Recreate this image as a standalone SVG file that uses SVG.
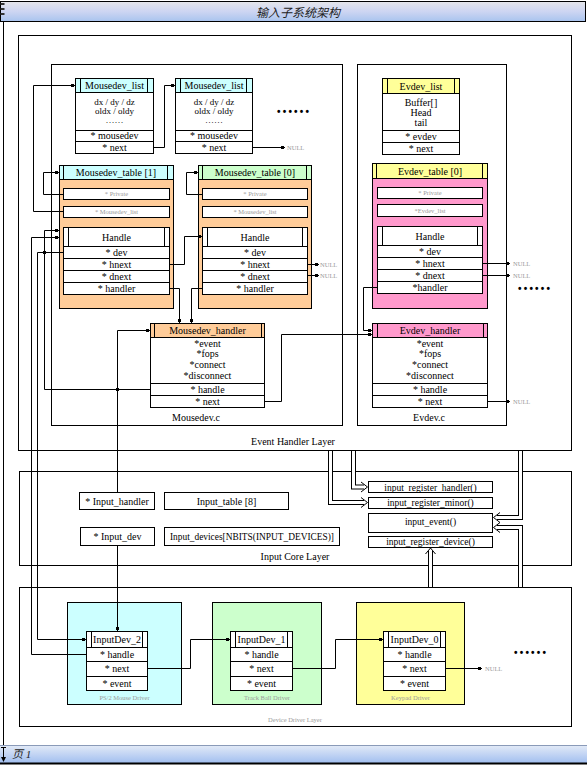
<svg xmlns="http://www.w3.org/2000/svg" width="587" height="765" viewBox="0 0 587 765">
<defs>
<linearGradient id="tg" x1="0" y1="0" x2="0" y2="1">
<stop offset="0" stop-color="#e6e6ea"/><stop offset="0.5" stop-color="#cdd5f2"/><stop offset="1" stop-color="#a9c4ee"/>
</linearGradient>
<linearGradient id="bg" x1="0" y1="0" x2="0" y2="1">
<stop offset="0" stop-color="#e4ebf7"/><stop offset="1" stop-color="#a2bff0"/>
</linearGradient>
<marker id="sq" markerUnits="userSpaceOnUse" markerWidth="6" markerHeight="6" refX="5" refY="3" orient="auto">
<rect x="1" y="1.5" width="3" height="3" fill="#000"/>
</marker>
</defs>
<style>
.b{fill:#fff;stroke:#000;stroke-width:1}
.fr{fill:none;stroke:#000;stroke-width:1}
.ln{stroke:#000;stroke-width:1}
.t{font-family:"Liberation Serif","Times New Roman",serif;font-size:10px;text-anchor:middle;fill:#000}
.tb{font-family:"Liberation Serif","Times New Roman",serif;font-size:9px;text-anchor:middle;fill:#000}
.s{font-family:"Liberation Serif","Times New Roman",serif;font-size:9.5px;text-anchor:middle;fill:#000}
.g{font-family:"Liberation Serif","Times New Roman",serif;font-size:6.5px;text-anchor:middle;fill:#9a9a9a}
.gl{font-family:"Liberation Serif","Times New Roman",serif;font-size:6.5px;fill:#9a9a9a}
.c{fill:none;stroke:#000;stroke-width:1;marker-end:url(#sq)}
.dk{fill:none;stroke:#000;stroke-width:5}
.dw{fill:none;stroke:#fff;stroke-width:3}
.ah{fill:none;stroke:#000;stroke-width:1}
.dots{font-family:"Liberation Sans",Arial,sans-serif;font-size:10px;font-weight:bold;fill:#000;letter-spacing:2.2px}
.cyan{fill:#ccffff}.grn{fill:#ccffcc}.org{fill:#ffcc99}.pnk{fill:#ff99cc}.yel{fill:#ffff99}
</style>

<!-- page frame -->
<g id="page">
<rect x="0.5" y="1.5" width="585" height="20" fill="url(#tg)" stroke="#000"/>
<text x="298" y="17" font-family="'Noto Sans CJK SC','Noto Sans CJK JP',sans-serif" font-size="12" font-style="italic" text-anchor="middle" fill="#222">输入子系统架构</text>
<rect x="0.5" y="3" width="4" height="2" fill="#333"/><rect x="0.5" y="8" width="4" height="2" fill="#333"/><rect x="0.5" y="13" width="4" height="2" fill="#333"/>
<line class="ln" x1="3.5" y1="21.5" x2="3.5" y2="745"/>
<rect x="0" y="745" width="587" height="18" fill="url(#bg)"/>
<line x1="0" y1="745.5" x2="587" y2="745.5" stroke="#8a9ab8"/>
<line x1="0" y1="763.5" x2="587" y2="763.5" stroke="#000" stroke-width="2"/>
<line class="ln" x1="3.5" y1="747" x2="3.5" y2="761"/><line class="ln" x1="1" y1="747.5" x2="6" y2="747.5"/><path d="M1,757 L3.5,762 L6,757z" fill="#000"/>
<text x="12" y="758" font-family="'Liberation Serif','Noto Sans CJK SC',serif" font-size="11" font-style="italic" fill="#222">页 1</text>
</g>

<!-- layer frames -->
<g id="event-handler-layer">
<rect class="fr" x="18.5" y="35.5" width="553" height="415"/>
<text class="t" x="293" y="445">Event Handler Layer</text>
</g>
<g id="mousedev-c">
<rect class="fr" x="51.5" y="64.5" width="291" height="361"/>
<text class="t" x="196" y="421">Mousedev.c</text>
</g>
<g id="evdev-c">
<rect class="fr" x="357.5" y="64.5" width="149" height="361"/>
<text class="t" x="429" y="421">Evdev.c</text>
</g>
<g id="input-core-layer">
<rect class="fr" x="19.5" y="471.5" width="552" height="94"/>
<text class="t" x="295" y="560">Input Core Layer</text>
</g>
<g id="device-driver-layer">
<rect class="fr" x="19.5" y="587.5" width="552" height="139"/>
<text class="g" x="295" y="722">Device Driver Layer</text>
</g>

<!-- Mousedev_list 1 -->
<g id="mousedev-list-1">
<rect class="b" x="75.5" y="78.5" width="78" height="75"/>
<rect class="b cyan" x="75.5" y="78.5" width="78" height="14"/>
<line class="ln" x1="80.5" y1="78.5" x2="80.5" y2="92.5"/><line class="ln" x1="147.5" y1="78.5" x2="147.5" y2="92.5"/>
<text class="t" x="114.5" y="89">Mousedev_list</text>
<text class="tb" x="114.5" y="105">dx / dy / dz</text>
<text class="tb" x="114.5" y="114">oldx / oldy</text>
<text class="tb" x="114.5" y="123">……</text>
<line class="ln" x1="75.5" y1="130.5" x2="153.5" y2="130.5"/>
<line class="ln" x1="75.5" y1="141.5" x2="153.5" y2="141.5"/>
<text class="t" x="114.5" y="139">* mousedev</text>
<text class="t" x="114.5" y="150.5">* next</text>
</g>
<!-- Mousedev_list 2 -->
<g id="mousedev-list-2">
<rect class="b" x="175.5" y="78.5" width="77" height="75"/>
<rect class="b cyan" x="175.5" y="78.5" width="77" height="14"/>
<line class="ln" x1="180.5" y1="78.5" x2="180.5" y2="92.5"/><line class="ln" x1="246.5" y1="78.5" x2="246.5" y2="92.5"/>
<text class="t" x="214" y="89">Mousedev_list</text>
<text class="tb" x="214" y="105">dx / dy / dz</text>
<text class="tb" x="214" y="114">oldx / oldy</text>
<text class="tb" x="214" y="123">……</text>
<line class="ln" x1="175.5" y1="130.5" x2="252.5" y2="130.5"/>
<line class="ln" x1="175.5" y1="141.5" x2="252.5" y2="141.5"/>
<text class="t" x="214" y="139">* mousedev</text>
<text class="t" x="214" y="150.5">* next</text>
</g>
<text class="dots" x="277" y="115">••••••</text>

<!-- Mousedev_table[1] -->
<g id="mousedev-table-1">
<rect class="b org" x="59.5" y="165.5" width="114" height="143"/>
<rect class="b cyan" x="59.5" y="165.5" width="114" height="14"/>
<line class="ln" x1="63.5" y1="165.5" x2="63.5" y2="179.5"/><line class="ln" x1="167.5" y1="165.5" x2="167.5" y2="179.5"/>
<text class="t" x="116" y="176">Mousedev_table [1]</text>
<rect class="b" x="63.5" y="188.5" width="106" height="11"/>
<text class="g" x="116.5" y="196">* Private</text>
<rect class="b" x="63.5" y="206.5" width="106" height="11"/>
<text class="g" x="116.5" y="214">* Mousedev_list</text>
<rect class="b" x="63.5" y="227.5" width="106" height="67"/>
<line class="ln" x1="68.5" y1="227.5" x2="68.5" y2="246.5"/><line class="ln" x1="164.5" y1="227.5" x2="164.5" y2="246.5"/>
<line class="ln" x1="63.5" y1="246.5" x2="169.5" y2="246.5"/>
<line class="ln" x1="63.5" y1="258.5" x2="169.5" y2="258.5"/>
<line class="ln" x1="63.5" y1="270.5" x2="169.5" y2="270.5"/>
<line class="ln" x1="63.5" y1="282.5" x2="169.5" y2="282.5"/>
<text class="t" x="116.5" y="240.5">Handle</text>
<text class="t" x="116.5" y="256">* dev</text>
<text class="t" x="116.5" y="268">* hnext</text>
<text class="t" x="116.5" y="280">* dnext</text>
<text class="t" x="116.5" y="292">* handler</text>
</g>

<!-- Mousedev_table[0] -->
<g id="mousedev-table-0">
<rect class="b org" x="198.5" y="165.5" width="113" height="143"/>
<rect class="b grn" x="198.5" y="165.5" width="113" height="14"/>
<line class="ln" x1="202.5" y1="165.5" x2="202.5" y2="179.5"/><line class="ln" x1="306.5" y1="165.5" x2="306.5" y2="179.5"/>
<text class="t" x="255" y="176">Mousedev_table [0]</text>
<rect class="b" x="202.5" y="188.5" width="105" height="11"/>
<text class="g" x="255" y="196">* Private</text>
<rect class="b" x="202.5" y="206.5" width="105" height="11"/>
<text class="g" x="255" y="214">* Mousedev_list</text>
<rect class="b" x="202.5" y="227.5" width="105" height="67"/>
<line class="ln" x1="207.5" y1="227.5" x2="207.5" y2="246.5"/><line class="ln" x1="302.5" y1="227.5" x2="302.5" y2="246.5"/>
<line class="ln" x1="202.5" y1="246.5" x2="307.5" y2="246.5"/>
<line class="ln" x1="202.5" y1="258.5" x2="307.5" y2="258.5"/>
<line class="ln" x1="202.5" y1="270.5" x2="307.5" y2="270.5"/>
<line class="ln" x1="202.5" y1="282.5" x2="307.5" y2="282.5"/>
<text class="t" x="255" y="240.5">Handle</text>
<text class="t" x="255" y="256">* dev</text>
<text class="t" x="255" y="268">* hnext</text>
<text class="t" x="255" y="280">* dnext</text>
<text class="t" x="255" y="292">* handler</text>
</g>

<!-- Evdev_list -->
<g id="evdev-list">
<rect class="b" x="382.5" y="78.5" width="77" height="76"/>
<rect class="b yel" x="382.5" y="78.5" width="77" height="15"/>
<line class="ln" x1="387.5" y1="78.5" x2="387.5" y2="93.5"/><line class="ln" x1="454.5" y1="78.5" x2="454.5" y2="93.5"/>
<text class="t" x="421" y="89.5">Evdev_list</text>
<text class="t" x="421" y="105.5">Buffer[]</text>
<text class="t" x="421" y="115.5">Head</text>
<text class="t" x="421" y="125.5">tail</text>
<line class="ln" x1="382.5" y1="130.5" x2="459.5" y2="130.5"/>
<line class="ln" x1="382.5" y1="142.5" x2="459.5" y2="142.5"/>
<text class="t" x="421" y="139.5">* evdev</text>
<text class="t" x="421" y="151.5">* next</text>
</g>

<!-- Evdev_table[0] -->
<g id="evdev-table-0">
<rect class="b pnk" x="372.5" y="163.5" width="115" height="145"/>
<rect class="b yel" x="372.5" y="163.5" width="115" height="15"/>
<line class="ln" x1="376.5" y1="163.5" x2="376.5" y2="178.5"/><line class="ln" x1="482.5" y1="163.5" x2="482.5" y2="178.5"/>
<text class="t" x="430" y="174.5">Evdev_table [0]</text>
<rect class="b" x="377.5" y="187.5" width="105" height="11"/>
<text class="g" x="430" y="195">* Private</text>
<rect class="b" x="377.5" y="204.5" width="105" height="12"/>
<text class="g" x="430" y="212.5">*Evdev_list</text>
<rect class="b" x="377.5" y="226.5" width="105" height="67"/>
<line class="ln" x1="382.5" y1="226.5" x2="382.5" y2="245.5"/><line class="ln" x1="477.5" y1="226.5" x2="477.5" y2="245.5"/>
<line class="ln" x1="377.5" y1="245.5" x2="482.5" y2="245.5"/>
<line class="ln" x1="377.5" y1="257.5" x2="482.5" y2="257.5"/>
<line class="ln" x1="377.5" y1="269.5" x2="482.5" y2="269.5"/>
<line class="ln" x1="377.5" y1="281.5" x2="482.5" y2="281.5"/>
<text class="t" x="430" y="239.5">Handle</text>
<text class="t" x="430" y="255">* dev</text>
<text class="t" x="430" y="267">* hnext</text>
<text class="t" x="430" y="279">* dnext</text>
<text class="t" x="430" y="291">*handler</text>
</g>
<text class="dots" x="518" y="292">••••••</text>

<!-- Mousedev_handler -->
<g id="mousedev-handler">
<rect class="b" x="150.5" y="323.5" width="114" height="84"/>
<rect class="b org" x="150.5" y="323.5" width="114" height="14"/>
<line class="ln" x1="154.5" y1="323.5" x2="154.5" y2="337.5"/><line class="ln" x1="261.5" y1="323.5" x2="261.5" y2="337.5"/>
<text class="t" x="207.5" y="334">Mousedev_handler</text>
<text class="t" x="207.5" y="346.5">*event</text>
<text class="t" x="207.5" y="357">*fops</text>
<text class="t" x="207.5" y="368">*connect</text>
<text class="t" x="207.5" y="379">*disconnect</text>
<line class="ln" x1="150.5" y1="383.5" x2="264.5" y2="383.5"/>
<line class="ln" x1="150.5" y1="395.5" x2="264.5" y2="395.5"/>
<text class="t" x="207.5" y="392.5">* handle</text>
<text class="t" x="207.5" y="404.5">* next</text>
</g>

<!-- Evdev_handler -->
<g id="evdev-handler">
<rect class="b" x="372.5" y="323.5" width="115" height="84"/>
<rect class="b pnk" x="372.5" y="323.5" width="115" height="14"/>
<line class="ln" x1="377.5" y1="323.5" x2="377.5" y2="337.5"/><line class="ln" x1="483.5" y1="323.5" x2="483.5" y2="337.5"/>
<text class="t" x="430" y="334">Evdev_handler</text>
<text class="t" x="430" y="346.5">*event</text>
<text class="t" x="430" y="357">*fops</text>
<text class="t" x="430" y="368">*connect</text>
<text class="t" x="430" y="379">*disconnect</text>
<line class="ln" x1="372.5" y1="383.5" x2="487.5" y2="383.5"/>
<line class="ln" x1="372.5" y1="395.5" x2="487.5" y2="395.5"/>
<text class="t" x="430" y="392.5">* handle</text>
<text class="t" x="430" y="404.5">* next</text>
</g>

<!-- Input core boxes -->
<g id="input-handler"><rect class="b" x="79.5" y="492.5" width="75" height="17"/><text class="t" x="117" y="504.5">* Input_handler</text></g>
<g id="input-table"><rect class="b" x="164.5" y="492.5" width="124" height="17"/><text class="t" x="226.5" y="504.5">Input_table [8]</text></g>
<g id="input-dev"><rect class="b" x="80.5" y="527.5" width="74" height="18"/><text class="t" x="117.5" y="540">* Input_dev</text></g>
<g id="input-devices"><rect class="b" x="164.5" y="527.5" width="175" height="18"/><text class="s" x="252" y="540" textLength="164" lengthAdjust="spacingAndGlyphs">Input_devices[NBITS(INPUT_DEVICES)]</text></g>
<g id="input-register-handler"><rect class="b" x="368.5" y="481.5" width="124" height="11"/><text class="s" x="430.5" y="490.5">input_register_handler()</text></g>
<g id="input-register-minor"><rect class="b" x="368.5" y="497.5" width="124" height="11"/><text class="s" x="430.5" y="506">input_register_minor()</text></g>
<g id="input-event"><rect class="b" x="368.5" y="513.5" width="124" height="19"/><text class="s" x="430.5" y="525">input_event()</text></g>
<g id="input-register-device"><rect class="b" x="368.5" y="536.5" width="124" height="11"/><text class="s" x="430.5" y="545">input_register_device()</text></g>

<!-- Device drivers -->
<g id="ps2-mouse-driver">
<rect x="67.5" y="602.5" width="114" height="102" fill="#ccffff" stroke="#000"/>
<text class="g" x="124.5" y="700">PS/2 Mouse Driver</text>
<rect class="b" x="86.5" y="631.5" width="61" height="59"/>
<line class="ln" x1="91.5" y1="631.5" x2="91.5" y2="647.5"/><line class="ln" x1="142.5" y1="631.5" x2="142.5" y2="647.5"/>
<line class="ln" x1="86.5" y1="647.5" x2="147.5" y2="647.5"/>
<line class="ln" x1="86.5" y1="661.5" x2="147.5" y2="661.5"/>
<line class="ln" x1="86.5" y1="676.5" x2="147.5" y2="676.5"/>
<text class="t" x="117" y="643">InputDev_2</text>
<text class="t" x="117" y="657.5">* handle</text>
<text class="t" x="117" y="672">* next</text>
<text class="t" x="117" y="686.5">* event</text>
</g>
<g id="track-ball-driver">
<rect x="212.5" y="602.5" width="109" height="102" fill="#ccffcc" stroke="#000"/>
<text class="g" x="267" y="700">Track Ball Driver</text>
<rect class="b" x="230.5" y="631.5" width="62" height="59"/>
<line class="ln" x1="235.5" y1="631.5" x2="235.5" y2="647.5"/><line class="ln" x1="287.5" y1="631.5" x2="287.5" y2="647.5"/>
<line class="ln" x1="230.5" y1="647.5" x2="292.5" y2="647.5"/>
<line class="ln" x1="230.5" y1="661.5" x2="292.5" y2="661.5"/>
<line class="ln" x1="230.5" y1="676.5" x2="292.5" y2="676.5"/>
<text class="t" x="261.5" y="643">InputDev_1</text>
<text class="t" x="261.5" y="657.5">* handle</text>
<text class="t" x="261.5" y="672">* next</text>
<text class="t" x="261.5" y="686.5">* event</text>
</g>
<g id="keypad-driver">
<rect x="356.5" y="602.5" width="108" height="102" fill="#ffff99" stroke="#000"/>
<text class="g" x="410.5" y="700">Keypad Driver</text>
<rect class="b" x="383.5" y="631.5" width="62" height="59"/>
<line class="ln" x1="388.5" y1="631.5" x2="388.5" y2="647.5"/><line class="ln" x1="440.5" y1="631.5" x2="440.5" y2="647.5"/>
<line class="ln" x1="383.5" y1="647.5" x2="445.5" y2="647.5"/>
<line class="ln" x1="383.5" y1="661.5" x2="445.5" y2="661.5"/>
<line class="ln" x1="383.5" y1="676.5" x2="445.5" y2="676.5"/>
<text class="t" x="414.5" y="643">InputDev_0</text>
<text class="t" x="414.5" y="657.5">* handle</text>
<text class="t" x="414.5" y="672">* next</text>
<text class="t" x="414.5" y="686.5">* event</text>
</g>
<text class="dots" x="514" y="656">••••••</text>

<!-- connectors -->
<g id="connectors">
<path class="c" d="M63.5,211.5 H33.5 V85.5 H75"/>
<path class="c" d="M153.5,147.5 H164.5 V85.5 H175"/>
<path class="c" d="M252.5,147.5 H285"/>
<text class="gl" x="287" y="150">NULL</text>
<path class="c" d="M63.5,194.5 H43.5 V172.5 H59"/>
<path class="c" d="M202.5,194.5 H186.5 V172.5 H198"/>
<path class="c" d="M150.5,389.5 H44.5 V230.5 H59"/>
<path class="c" d="M86.5,654.5 H31.5 V237.5 H59"/>
<path class="c" d="M63.5,252.5 H37.5 V639.5 H86"/>
<rect x="43" y="251" width="3" height="3" fill="#000"/>
<rect x="116" y="388" width="3" height="3" fill="#000"/>
<path class="c" d="M169.5,264.5 H184.5 V236.5 H202"/>
<path class="c" d="M169.5,288.5 H179.5 V323"/>
<path class="c" d="M202.5,288.5 H191.5 V323"/>
<path class="c" d="M307.5,264.5 H319"/>
<path class="c" d="M307.5,275.5 H319"/>
<text class="gl" x="320" y="267">NULL</text>
<text class="gl" x="320" y="278">NULL</text>
<path class="c" d="M117.5,492.5 V330.5 H150"/>
<path class="c" d="M264.5,401.5 H281.5 V334.5 H372"/>
<path class="c" d="M377.5,287.5 H363.5 V330.5 H372"/>
<path class="c" d="M482.5,263.5 H510"/>
<path class="c" d="M482.5,275.5 H510"/>
<text class="gl" x="513" y="266">NULL</text>
<text class="gl" x="513" y="278">NULL</text>
<path class="c" d="M487.5,401.5 H510"/>
<text class="gl" x="513" y="404">NULL</text>
<path class="c" d="M117.5,545.5 V631"/>
<path class="c" d="M147.5,668.5 H190.5 V639.5 H230"/>
<path class="c" d="M292.5,668.5 H335.5 V639.5 H383"/>
<path class="c" d="M445.5,668.5 H482"/>
<text class="gl" x="485" y="671">NULL</text>

<!-- double-line (hollow) connectors -->
<path class="dk" d="M353.5,451 V487 H364"/>
<path class="dw" d="M353.5,451 V487 H364"/>
<polyline class="ah" points="361,482 367.5,487 361,492"/>
<path class="dk" d="M330.5,451 V502.5 H364"/>
<path class="dw" d="M330.5,451 V502.5 H364"/>
<polyline class="ah" points="361,497.5 367.5,502.5 361,507.5"/>
<path class="dk" d="M520.5,451 V517.5 H497"/>
<path class="dw" d="M520.5,451 V517.5 H497"/>
<polyline class="ah" points="500,512.5 493.5,517.5 500,522.5"/>
<path class="dk" d="M520.5,587 V527.5 H497"/>
<path class="dw" d="M520.5,587 V527.5 H497"/>
<polyline class="ah" points="500,522.5 493.5,527.5 500,532.5"/>
<path class="dk" d="M430.5,587 V551"/>
<path class="dw" d="M430.5,587 V551"/>
<polyline class="ah" points="425.5,554 430.5,548 435.5,554"/>
</g>
</svg>
